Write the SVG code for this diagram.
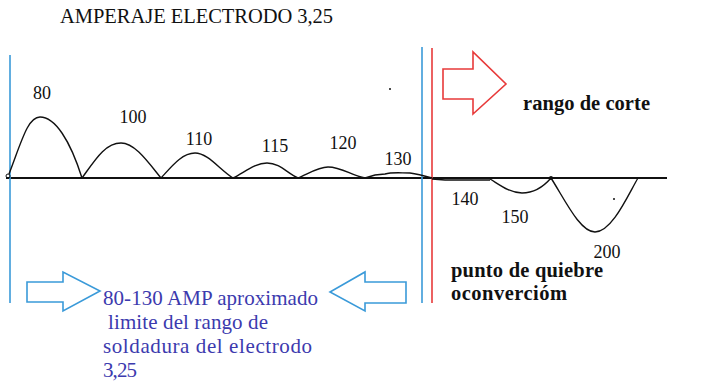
<svg xmlns="http://www.w3.org/2000/svg" width="725" height="385" viewBox="0 0 725 385">
<style>
.t{font-family:'Liberation Serif','Times New Roman',serif;fill:#111}
.n{font-size:18px}
.b{font-size:20.5px;font-weight:bold}
.bl{font-family:'Liberation Serif','Times New Roman',serif;font-size:21px;fill:#3c3aae}
.curve{fill:none;stroke:#111;stroke-width:1.4}
.vb{stroke:#3a9ad9;stroke-width:1.6}
.vr{stroke:#e83a3a;stroke-width:1.6}
.arb{fill:none;stroke:#3a9ad9;stroke-width:1.6}
.arr{fill:none;stroke:#e83a3a;stroke-width:1.6}
</style>
<rect width="725" height="385" fill="#fff"/>
<g id="title"><text class="t" x="60" y="23" font-size="20.5" textLength="273">AMPERAJE ELECTRODO 3,25</text></g>
<g id="axis">
<line x1="6" y1="178" x2="667" y2="178" stroke="#111" stroke-width="2"/>
</g>
<g id="limits">
<line class="vb" x1="10" y1="55" x2="10" y2="303"/>
<line class="vb" x1="422" y1="47" x2="422" y2="303"/>
<line class="vr" x1="432" y1="48" x2="432" y2="303"/>
</g>
<g id="connectors">
<circle cx="8" cy="176" r="2" fill="none" stroke="#111" stroke-width="1"/>
<path class="curve" d="M9,174 C22,140 28,117 40,117 C55,117 70,140 82,178"/>
<path class="curve" d="M82,178 C95,160 105,143 121,143 C135,143 148,162 161,178"/>
<path class="curve" d="M161,178 C172,166 182,153 195,153 C208,153 220,170 233,178"/>
<path class="curve" d="M233,178 C245,172 255,163 267,163 C280,163 288,174 298,178"/>
<path class="curve" d="M298,178 C308,174 318,167 328,167 C342,167 352,176 365,178"/>
<path class="curve" d="M365,178 L375,175 L385,174 C392,172 400,173 410,173 C418,174 425,176 432,178"/>
<path class="curve" d="M432,179 L445,180 L490,180" stroke-width="2"/>
<path class="curve" d="M490,179 C500,185 510,193 522,193 C535,193 545,185 551,178"/>
<path class="curve" d="M551,178 C565,200 580,232 595,232 C612,232 628,195 638,178"/>
<circle cx="551" cy="178" r="2" fill="#111"/>
<circle cx="614" cy="199" r="1" fill="#111"/>
<circle cx="390" cy="89" r="1" fill="#111"/>
</g>
<g id="labels">
<text class="t n" x="42" y="99" text-anchor="middle">80</text>
<text class="t n" x="133" y="123" text-anchor="middle">100</text>
<text class="t n" x="199" y="145" text-anchor="middle">110</text>
<text class="t n" x="275" y="152" text-anchor="middle">115</text>
<text class="t n" x="343" y="149" text-anchor="middle">120</text>
<text class="t n" x="398" y="165" text-anchor="middle">130</text>
<text class="t n" x="465" y="205" text-anchor="middle">140</text>
<text class="t n" x="515" y="223" text-anchor="middle">150</text>
<text class="t n" x="607" y="258" text-anchor="middle">200</text>
</g>
<g id="cut-range">
<polygon class="arr" points="443,69 473,69 473,52 506,84 473,114 473,99 443,99"/>
<text class="t b" x="523" y="110" textLength="127">rango de corte</text>
</g>
<g id="break-point">
<text class="t b" x="451" y="277" textLength="152">punto de quiebre</text>
<text class="t b" x="451" y="300" textLength="116">oconvercióm</text>
</g>
<g id="weld-range">
<polygon class="arb" points="27,282 63,282 63,272 100,291 63,311 63,302 27,302"/>
<polygon class="arb" points="406,282 365,282 365,272 330,292 365,311 365,303 406,303"/>
<text class="bl" x="103" y="305" textLength="215">80-130 AMP aproximado</text>
<text class="bl" x="108" y="329" textLength="160">limite del rango de</text>
<text class="bl" x="103" y="353" textLength="209">soldadura del electrodo</text>
<text class="bl" x="103" y="377" textLength="34">3,25</text>
</g>
</svg>
